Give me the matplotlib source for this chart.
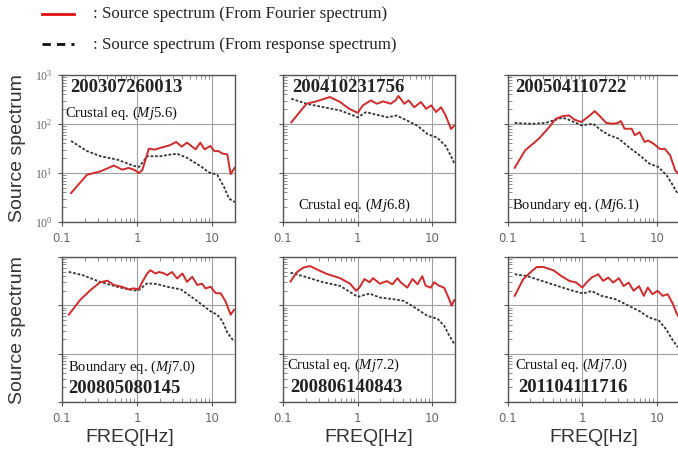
"""Source spectra of six events, Fourier vs response spectrum estimates"""

import matplotlib
matplotlib.use("Agg")
import matplotlib.pyplot as plt
from matplotlib.lines import Line2D
from matplotlib.ticker import LogLocator, NullFormatter, FixedLocator

# event labels
event_ids = ["200307260013", "200410231756", "200504110722",
             "200805080145", "200806140843", "201104111716"]
event_types = ["Crustal eq. ($Mj$5.6)", "Crustal eq. ($Mj$6.8)", "Boundary eq. ($Mj$6.1)",
               "Boundary eq. ($Mj$7.0)", "Crustal eq. ($Mj$7.2)", "Crustal eq. ($Mj$7.0)"]

# panel 1: 200307260013
f1_fs = [0.132, 0.215, 0.325, 0.49, 0.63, 0.77, 0.9, 1.06, 1.17, 1.43, 1.7, 2.1, 2.7, 3.3, 3.9,
         4.6, 6.0, 6.9, 7.9, 9.4, 10.6, 12.1, 13.5, 15.8, 17.5, 20.0]
v1_fs = [3.9, 9.2, 10.8, 14.2, 11.7, 12.7, 11.7, 10.0, 11.5, 31.4, 30.0, 33.0, 36.7, 43.0, 34.5,
         41.6, 30.4, 41.6, 30.4, 35.7, 28.0, 28.0, 25.0, 24.0, 9.5, 13.0]
f1_rs = [0.132, 0.215, 0.325, 0.54, 0.9, 1.06, 1.36, 2.04, 2.8, 3.4, 4.6, 7.0, 9.0, 11.6, 14.2,
         16.7, 19.4, 20.0]
v1_rs = [45.0, 28.0, 22.0, 18.8, 14.0, 13.3, 22.0, 22.0, 23.9, 24.7, 20.4, 13.7, 10.3, 9.2, 5.3,
         3.0, 2.6, 2.6]

# panel 2: 200410231756
f2_fs = [0.129, 0.206, 0.28, 0.425, 0.58, 0.77, 1.0, 1.17, 1.5, 1.8, 2.2, 2.75, 3.2, 3.5, 4.2,
         4.8, 5.7, 7.0, 8.2, 9.6, 11.2, 13.0, 15.0, 17.7, 19.5]
v2_fs = [108, 259, 290, 356, 281, 204, 169, 240, 303, 259, 290, 259, 303, 373, 259,
         303, 220, 281, 204, 240, 175, 220, 149, 79, 92]
f2_rs = [0.129, 0.206, 0.35, 0.58, 0.77, 1.0, 1.3, 1.8, 2.5, 3.3, 4.6, 6.3, 8.6, 11.5, 15.0,
         17.7, 19.5]
v2_rs = [329, 259, 220, 189, 161, 137, 175, 154, 137, 149, 117, 92, 62, 52.7, 35.7,
         22.0, 16.0]

# panel 3: 200504110722
f3_fs = [0.123, 0.17, 0.26, 0.36, 0.44, 0.54, 0.66, 0.79, 0.97, 1.19, 1.47, 1.73, 2.1, 2.6, 3.0,
         3.3, 3.7, 4.6, 5.1, 5.9, 6.9, 7.7, 9.0, 11.1, 12.9, 15.2, 17.8, 19.6]
v3_fs = [12.8, 29, 50, 87, 128, 144, 150, 122, 110, 139, 183, 144, 105, 101, 105,
         115, 80, 80, 59, 68, 43, 46, 40, 31, 31, 23, 11.3, 9.7]
f3_rs = [0.123, 0.21, 0.32, 0.44, 0.54, 0.66, 0.97, 1.4, 1.8, 2.3, 3.1, 4.3, 5.9, 8.0, 10.5,
         13.6, 16.0, 18.6, 20.0]
v3_rs = [105, 101, 105, 122, 135, 122, 94, 101, 74, 59, 50, 33, 23, 15.5, 13.3,
         9.0, 6.1, 4.1, 3.8]

# panel 4: 200805080145
f4_fs = [0.123, 0.175, 0.24, 0.32, 0.4, 0.49, 0.63, 0.77, 0.9, 1.05, 1.17, 1.36, 1.5, 1.75, 1.95,
         2.3, 2.5, 2.9, 3.4, 4.0, 4.6, 5.4, 6.3, 7.3, 8.1, 9.5, 11.1, 12.9, 15.0, 17.5, 19.4]
v4_fs = [64, 130, 208, 298, 324, 263, 242, 214, 224, 214, 306, 455, 533, 455, 490,
         455, 420, 490, 360, 455, 306, 390, 263, 280, 224, 242, 178, 178, 120, 64, 81]
f4_rs = [0.123, 0.19, 0.32, 0.54, 0.9, 1.05, 1.36, 1.84, 2.5, 3.8, 5.6, 7.8, 9.5, 11.6, 13.6,
         15.9, 18.5, 20.0]
v4_rs = [493, 420, 306, 242, 203, 208, 285, 276, 242, 214, 140, 95, 75, 64, 47,
         27, 19.7, 18.0]

# panel 5: 200806140843
f5_fs = [0.126, 0.151, 0.186, 0.23, 0.28, 0.38, 0.58, 0.79, 0.95, 1.05, 1.23, 1.44, 1.6, 1.98, 2.45,
         2.9, 3.4, 3.75, 4.6, 5.4, 6.3, 7.3, 8.1, 9.5, 10.5, 12.2, 14.3, 16.7, 18.0, 19.5]
v5_fs = [310, 475, 602, 650, 560, 450, 365, 280, 200, 232, 350, 300, 365, 280, 318,
         272, 365, 300, 232, 350, 272, 400, 255, 232, 300, 255, 232, 135, 98, 128]
f5_rs = [0.126, 0.2, 0.35, 0.58, 1.0, 1.44, 1.98, 3.0, 4.1, 5.6, 8.5, 11.8, 14.3, 16.7, 19.5]
v5_rs = [475, 388, 298, 253, 150, 175, 145, 134, 124, 93, 61, 52, 38, 24, 16]

# panel 6: 201104111716
f6_fs = [0.123, 0.16, 0.21, 0.245, 0.3, 0.41, 0.52, 0.67, 0.83, 1.0, 1.14, 1.33, 1.64, 1.91, 2.24,
         2.6, 3.1, 3.6, 4.2, 4.9, 5.8, 6.7, 7.6, 8.8, 10.3, 12.1, 14.1, 16.6, 18.4, 20.0]
v6_fs = [157, 347, 514, 620, 620, 530, 405, 320, 296, 233, 296, 375, 440, 320, 375,
         296, 365, 250, 296, 200, 250, 157, 233, 170, 200, 157, 170, 106, 71, 56]
f6_rs = [0.123, 0.18, 0.27, 0.46, 0.7, 1.02, 1.33, 1.82, 2.8, 4.2, 5.8, 7.9, 10.8, 13.4, 16.6, 19.3]
v6_rs = [440, 405, 330, 253, 206, 176, 198, 157, 134, 98, 77, 56, 48, 32, 18.6, 13.6]

fourier_f = [f1_fs, f2_fs, f3_fs, f4_fs, f5_fs, f6_fs]
fourier_v = [v1_fs, v2_fs, v3_fs, v4_fs, v5_fs, v6_fs]
response_f = [f1_rs, f2_rs, f3_rs, f4_rs, f5_rs, f6_rs]
response_v = [v1_rs, v2_rs, v3_rs, v4_rs, v5_rs, v6_rs]

x_ticks = [0.1, 1, 10]
x_tick_labels = ["0.1", "1", "10"]

RED = "#d02a2a"
DARK = "#333333"


def plot_data():
    plt.rcParams.update({
        "mathtext.fontset": "custom",
        "mathtext.rm": "Liberation Serif",
        "mathtext.it": "Liberation Serif:italic",
    })
    fig = plt.figure(figsize=(6.78, 4.55), dpi=100)

    # axes boxes in pixels: (left, top, right, bottom)
    W, H = 678.0, 455.0
    boxes = [
        (62, 75, 235, 222), (283, 75, 455, 222), (508, 75, 679, 222),
        (62, 257, 235, 402), (283, 257, 455, 402), (508, 257, 679, 402),
    ]
    # text anchors in axes fraction: (id_x, id_y, type_x, type_y)
    anchors = [
        (0.045, 0.912, 0.017, 0.741),
        (0.052, 0.912, 0.087, 0.116),
        (0.041, 0.915, 0.023, 0.116),
        (0.035, 0.090, 0.035, 0.241),
        (0.040, 0.103, 0.023, 0.255),
        (0.058, 0.103, 0.041, 0.255),
    ]

    for i, (l, t, r, b) in enumerate(boxes):
        ax = fig.add_axes([l / W, 1 - b / H, (r - l) / W, (b - t) / H])
        ax.set_xscale("log")
        ax.set_yscale("log")
        ax.set_xlim(0.1, 20)
        ax.set_ylim(1, 1000)

        ax.plot(response_f[i], response_v[i], color=DARK, linewidth=1.3,
                linestyle=(0, (1.5, 1.0)))
        ax.plot(fourier_f[i], fourier_v[i], color=RED, linewidth=1.4)

        ax.xaxis.set_major_locator(FixedLocator(x_ticks))
        ax.set_xticklabels(x_tick_labels)
        ax.xaxis.set_minor_locator(LogLocator(base=10, subs=range(2, 10)))
        ax.xaxis.set_minor_formatter(NullFormatter())
        ax.yaxis.set_major_locator(FixedLocator([1, 10, 100, 1000]))
        ax.yaxis.set_minor_locator(LogLocator(base=10, subs=range(2, 10)))
        ax.yaxis.set_minor_formatter(NullFormatter())
        if i == 0:
            ax.set_yticklabels(["$10^0$", "$10^1$", "$10^2$", "$10^3$"])
        else:
            ax.set_yticklabels([])

        ax.grid(True, which="major", color="#a0a0a0", linewidth=0.8)
        ax.tick_params(which="major", direction="out", length=3, width=0.8,
                       color="#555555", labelsize=8.5, labelcolor="#666666", pad=4)
        ax.tick_params(which="minor", direction="in", length=3, width=0.6,
                       color="#777777", top=True)
        for s in ax.spines.values():
            s.set_color("#555555")
            s.set_linewidth(1.0)

        ix, iy, tx, ty = anchors[i]
        ax.text(ix, iy, event_ids[i], transform=ax.transAxes, ha="left", va="center",
                fontsize=13.5, fontweight="bold", family="Liberation Serif", color="#222222")
        ax.text(tx, ty, event_types[i], transform=ax.transAxes, ha="left", va="center",
                fontsize=10.5, family="Liberation Serif", color="#111111")

    # row labels and axis titles
    for yc in [148, 330]:
        fig.text(18 / W, 1 - yc / H, "Source spectrum", rotation=90, ha="center", va="center",
                 fontsize=14, family="Liberation Sans", color="#333333")
    for xc in [130, 369, 594]:
        fig.text(xc / W, 1 - 438 / H, "FREQ[Hz]", ha="center", va="center",
                 fontsize=14, family="Liberation Sans", color="#333333")

    # legend drawn by hand at the top
    fig.add_artist(Line2D([42 / W, 74 / W], [1 - 14 / H, 1 - 14 / H], color="#e01010",
                          linewidth=2.0))
    fig.add_artist(Line2D([42 / W, 74 / W], [1 - 44 / H, 1 - 44 / H], color="#111111",
                          linewidth=2.0, linestyle=(0, (3.0, 2.2))))
    fig.text(93 / W, 1 - 14 / H, ": Source spectrum (From Fourier spectrum)", ha="left",
             va="center", fontsize=12.2, family="Liberation Serif", color="#222222")
    fig.text(93 / W, 1 - 45 / H, ": Source spectrum (From response spectrum)", ha="left",
             va="center", fontsize=12.2, family="Liberation Serif", color="#222222")

    fig.savefig("out.png", dpi=100)
    plt.close(fig)


def main():
    plot_data()


if __name__ == "__main__":
    main()
